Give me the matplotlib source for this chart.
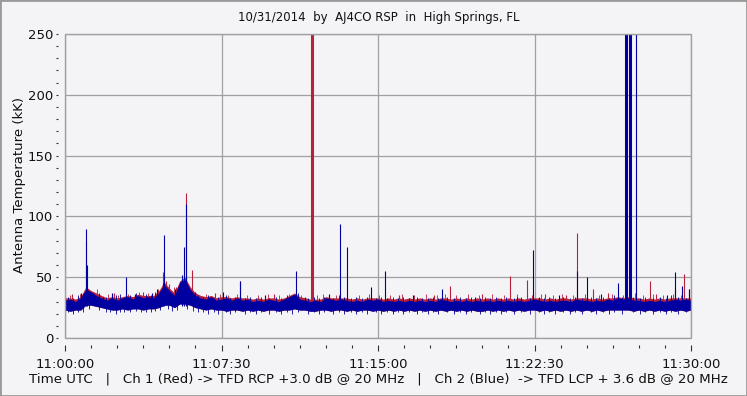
import matplotlib
matplotlib.use("Agg")
import matplotlib.pyplot as plt
from matplotlib.patches import Rectangle
from matplotlib.ticker import MultipleLocator

# ---------------- data (seconds after 11:00:00 UTC, values in kK) ----------------
env_t = list(range(0, 1801, 15))
blue_hi = [31, 32, 30, 33, 40, 38, 35, 33, 31, 33,
           31, 33, 34, 32, 35, 33, 34, 33, 37, 44,
           39, 35, 46, 48, 40, 35, 33, 32, 34, 31,
           32, 33, 31, 33, 31, 32, 30, 31, 30, 32,
           31, 30, 32, 34, 36, 32, 31, 30, 31, 30,
           33, 32, 31, 32, 31, 30, 31, 30, 32, 31,
           32, 30, 31, 30, 31, 30, 31, 30, 31, 30,
           31, 30, 32, 31, 30, 31, 30, 31, 30, 31,
           30, 31, 30, 31, 30, 31, 30, 31, 30, 31,
           32, 31, 30, 31, 30, 31, 31, 30, 32, 31,
           31, 30, 31, 30, 32, 31, 33, 32, 33, 31,
           31, 30, 31, 30, 31, 30, 31, 32, 31, 32,
           31]
blue_lo = [23, 22, 23, 23, 27, 27, 26, 25, 24, 23,
           23, 24, 23, 24, 24, 23, 24, 24, 25, 27,
           27, 25, 28, 28, 27, 25, 24, 23, 24, 23,
           23, 22, 23, 23, 22, 23, 22, 23, 22, 23,
           23, 22, 23, 23, 24, 23, 23, 22, 22, 23,
           23, 22, 23, 23, 22, 23, 22, 23, 23, 22,
           23, 22, 23, 22, 23, 22, 23, 22, 23, 22,
           23, 22, 23, 22, 23, 22, 23, 22, 23, 22,
           22, 23, 22, 23, 22, 23, 22, 23, 22, 23,
           23, 22, 23, 22, 23, 22, 23, 22, 23, 22,
           23, 22, 23, 22, 23, 23, 23, 23, 23, 22,
           23, 22, 23, 22, 23, 22, 23, 22, 23, 22,
           23]
red_hi = [33, 33, 32, 34, 42, 39, 37, 35, 33, 34,
          33, 34, 35, 34, 36, 35, 35, 35, 39, 46,
          41, 37, 47, 50, 42, 37, 35, 34, 35, 33,
          34, 34, 33, 34, 33, 33, 32, 33, 32, 33,
          33, 32, 33, 35, 37, 34, 33, 32, 32, 32,
          34, 33, 33, 33, 33, 32, 33, 32, 33, 33,
          33, 32, 33, 32, 33, 32, 33, 32, 33, 32,
          33, 32, 33, 33, 32, 33, 32, 33, 32, 33,
          32, 33, 32, 33, 32, 33, 32, 33, 32, 33,
          33, 33, 32, 33, 32, 33, 33, 32, 33, 33,
          33, 32, 33, 32, 33, 33, 34, 33, 34, 33,
          33, 32, 33, 32, 33, 32, 33, 33, 33, 33,
          33]

# distinct spikes
red_spike_t = [60, 282, 290, 348, 364, 503, 1107, 1280, 1328, 1472, 1518, 1682,
               1754, 1780, 1794, 20, 140, 225, 300, 320, 430, 600, 760, 960,
               1060, 1200, 1380, 1440, 1560, 1700]
red_spike_v = [79, 54, 47, 119, 56, 47, 43, 51, 48, 86, 40, 47,
               40, 53, 40, 36, 37, 38, 44, 42, 37, 36, 35, 35,
               35, 36, 36, 35, 37, 36]
blue_spike_t = [60, 63, 175, 282, 285, 336, 342, 348, 503, 664, 791, 811, 880,
                920, 1084, 1346, 1472, 1501, 1590, 1643, 1754, 1774, 1794,
                45, 110, 135, 200, 250, 265, 315, 375, 455, 575, 690, 760,
                1000, 1180, 1300, 1420, 1540, 1730]
blue_spike_v = [90, 60, 50, 45, 85, 52, 75, 110, 47, 55, 94, 75, 42,
                55, 40, 72, 55, 50, 45, 250, 54, 43, 40,
                37, 34, 37, 36, 37, 40, 40, 38, 38, 35, 34, 36,
                35, 34, 34, 35, 36, 35]
# small noise spikes on top of the baseline
blue_noise_t = [8, 22, 37, 52, 70, 98, 118, 128, 147, 158, 170, 188, 203, 218,
                232, 247, 258, 272, 295, 308, 322, 352, 369, 383, 398, 412, 427,
                441, 462, 474, 489, 517, 531, 548, 563, 588, 606, 621, 637, 652,
                671, 698, 716, 731, 746, 772, 787, 803, 823, 838, 853, 867, 893,
                908, 927, 943, 958, 973, 988, 1012, 1027, 1043, 1058, 1072, 1098,
                1118, 1137, 1153, 1168, 1193, 1208, 1222, 1238, 1253, 1268, 1292,
                1312, 1338, 1362, 1377, 1393, 1408, 1433, 1452, 1467, 1488, 1513,
                1528, 1548, 1563, 1578, 1602, 1632, 1653, 1668, 1692, 1712, 1727,
                1742, 1763, 1787]
blue_noise_v = [34, 33, 35, 36, 38, 37, 34, 33, 35, 36, 34, 35, 37, 34,
                36, 35, 38, 39, 40, 37, 36, 39, 36, 35, 34, 35, 33,
                34, 35, 33, 34, 33, 34, 33, 34, 33, 34, 33, 35, 34,
                37, 33, 34, 33, 34, 33, 35, 34, 33, 34, 33, 34, 33,
                34, 33, 34, 33, 34, 33, 34, 33, 33, 34, 33, 34,
                33, 34, 33, 34, 33, 34, 33, 34, 33, 34, 33,
                34, 33, 34, 33, 34, 33, 34, 33, 34, 33, 34,
                33, 34, 33, 35, 34, 34, 33, 34, 33, 34, 33,
                35, 34, 33]
blue_dip_v = [21, 20, 21, 21, 24, 23, 21, 21, 20, 21, 21, 21, 22, 21,
              21, 21, 22, 23, 24, 22, 23, 24, 22, 21, 21, 20, 21,
              20, 21, 20, 21, 20, 21, 20, 21, 20, 21, 20, 21, 20,
              21, 20, 21, 20, 21, 20, 21, 20, 21, 20, 21, 20, 21,
              20, 21, 20, 21, 20, 21, 20, 21, 20, 21, 20, 21,
              20, 21, 20, 21, 20, 21, 20, 21, 20, 21, 20,
              21, 20, 21, 20, 21, 20, 21, 20, 21, 20, 21,
              20, 21, 20, 21, 20, 21, 20, 21, 20, 21, 20,
              21, 20, 21]
red_noise_t = [14, 44, 92, 124, 152, 181, 212, 240, 268, 312, 338, 378, 404,
               447, 470, 495, 524, 556, 583, 615, 645, 680, 725, 742, 778, 812,
               846, 875, 902, 935, 968, 1003, 1038, 1070, 1093, 1125, 1160, 1190,
               1228, 1262, 1300, 1342, 1370, 1402, 1430, 1460, 1495, 1535, 1572,
               1605, 1640, 1662, 1690, 1720, 1748, 1772]
red_noise_v = [35, 36, 40, 36, 35, 36, 38, 37, 40, 42, 44, 37, 36,
               36, 35, 36, 35, 35, 36, 35, 36, 35, 35, 36, 35, 36,
               35, 36, 35, 35, 36, 35, 36, 35, 36, 35, 36, 35,
               36, 35, 36, 35, 36, 35, 36, 35, 36, 35, 36,
               35, 37, 35, 36, 35, 36, 35]

# wide saturating bursts
red_burst_t = [710, 713]
red_burst_v = [250, 241]
blue_burst_t = [1612, 1625]
blue_burst_v = [250, 250]

x_ticks = [0, 450, 900, 1350, 1800]
x_labels = ["11:00:00", "11:07:30", "11:15:00", "11:22:30", "11:30:00"]
title = "10/31/2014  by  AJ4CO RSP  in  High Springs, FL"
ylabel = "Antenna Temperature (kK)"
footer = "Time UTC   |   Ch 1 (Red) -> TFD RCP +3.0 dB @ 20 MHz   |   Ch 2 (Blue)  -> TFD LCP + 3.6 dB @ 20 MHz"

RED = "#b8203c"
BLUE = "#0000a0"
BG = "#f4f4f6"
GRID = "#a0a0a0"
FONT = "DejaVu Sans"
W, H = 747, 396

fig = plt.figure(figsize=(W / 100, H / 100), dpi=100, facecolor=BG)
ax = fig.add_axes([65 / W, 1 - 338 / H, (691 - 65) / W, (338 - 34) / H])
ax.set_facecolor(BG)

# red channel (behind)
ax.fill_between(env_t, blue_lo, red_hi, color=RED, lw=0, zorder=2)
ax.vlines(red_noise_t, 28, red_noise_v, color=RED, lw=0.6, zorder=2)
ax.vlines(red_spike_t, 28, red_spike_v, color=RED, lw=0.8, zorder=2)
ax.vlines(red_burst_t, 28, red_burst_v, color=RED, lw=[2.2, 1.3], zorder=2)
# blue channel (front)
ax.fill_between(env_t, blue_lo, blue_hi, color=BLUE, lw=0, zorder=3)
ax.vlines(blue_noise_t, blue_dip_v, blue_noise_v, color=BLUE, lw=0.6, zorder=3)
ax.vlines(blue_spike_t, 26, blue_spike_v, color=BLUE, lw=0.8, zorder=3)
ax.vlines(blue_burst_t, 28, blue_burst_v, color=BLUE, lw=2.2, zorder=3)

ax.set_xlim(0, 1800)
ax.set_ylim(0, 250)
ax.grid(True, color=GRID, lw=0.9, zorder=1)
ax.set_axisbelow(True)

for s in ax.spines.values():
    s.set_visible(False)
ax.spines['left'].set_position(('outward', 5))
ax.spines['bottom'].set_position(('outward', 5))
ax.add_patch(Rectangle((0, 0), 1, 1, transform=ax.transAxes, fill=False,
                       ec=GRID, lw=1.0, zorder=5, clip_on=False))

ax.set_xticks(x_ticks)
ax.set_xticklabels(x_labels)
ax.xaxis.set_minor_locator(MultipleLocator(75))
ax.yaxis.set_major_locator(MultipleLocator(50))
ax.yaxis.set_minor_locator(MultipleLocator(10))
ax.tick_params(axis='x', which='major', length=4.5, width=0.8, color='#303030',
               pad=5, labelsize=9.5, labelcolor='#101010')
ax.tick_params(axis='x', which='minor', length=2, width=0.8, color='#303030')
ax.tick_params(axis='y', which='both', length=1.5, width=0.8, color='#303030',
               pad=2, labelsize=9.5, labelcolor='#101010')
for lab in ax.get_xticklabels() + ax.get_yticklabels():
    lab.set_family(FONT)

ax.set_ylabel(ylabel, fontsize=9.5, family=FONT, color='#101010')
ax.yaxis.set_label_coords((26 - 65) / (691 - 65), (338 - 185) / (338 - 34))
fig.text(379 / W, 1 - 18 / H, title, ha='center', va='center', fontsize=8.5,
         family=FONT, color='#101010')
fig.text(378 / W, 1 - 379 / H, footer, ha='center', va='center', fontsize=9.6,
         family=FONT, color='#101010')

fig.add_artist(Rectangle((0, 0), 1, 1, transform=fig.transFigure, fill=False,
                         ec='#9a9a9a', lw=2.0))
fig.savefig("out.png", dpi=100, facecolor=BG)
